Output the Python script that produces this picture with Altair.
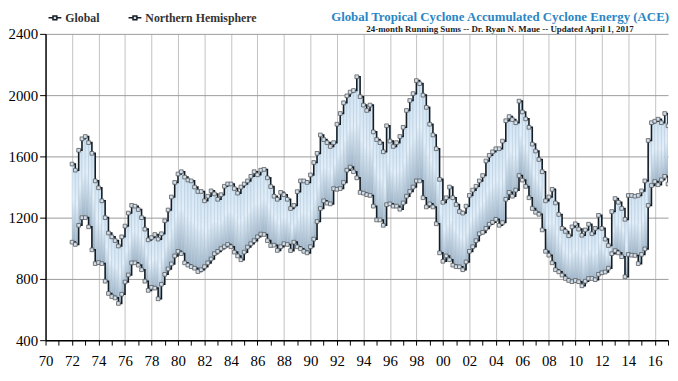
import altair as alt
import pandas as pd

# 24-month running sums of ACE (1972.00 .. 2017.00)
GLOBAL_ACE = [
    1550, 1510, 1640, 1715,   # 1972
    1730, 1690, 1620, 1440,   # 1973
    1395, 1310, 1200, 1100,   # 1974
    1075, 1050, 1015, 1075,   # 1975
    1145, 1230, 1280, 1275,   # 1976
    1253, 1200, 1125, 1055,   # 1977
    1070, 1090, 1060, 1095,   # 1978
    1180, 1250, 1335, 1430,   # 1979
    1485, 1500, 1465, 1446,   # 1980
    1440, 1400, 1371, 1371,   # 1981
    1310, 1340, 1375, 1355,   # 1982
    1320, 1350, 1405, 1420,   # 1983
    1420, 1390, 1360, 1400,   # 1984
    1420, 1440, 1470, 1500,   # 1985
    1480, 1510, 1515, 1460,   # 1986
    1403, 1340, 1320, 1365,   # 1987
    1350, 1320, 1260, 1280,   # 1988
    1370, 1440, 1440, 1430,   # 1989
    1479, 1560, 1620, 1740,   # 1990
    1710, 1690, 1665, 1690,   # 1991
    1810, 1880, 1950, 1995,   # 1992
    2020, 2030, 2120, 1990,   # 1993
    1935, 1900, 1935, 1760,   # 1994
    1710, 1690, 1630, 1800,   # 1995
    1700, 1665, 1690, 1730,   # 1996
    1790, 1900, 1965, 2010,   # 1997
    2095, 2075, 2000, 1920,   # 1998
    1810, 1740, 1650, 1450,   # 1999
    1300, 1330, 1400, 1330,   # 2000
    1286, 1240, 1230, 1275,   # 2001
    1345, 1380, 1405, 1440,   # 2002
    1475, 1570, 1607, 1630,   # 2003
    1650, 1650, 1700, 1833,   # 2004
    1860, 1840, 1820, 1961,   # 2005
    1890, 1845, 1790, 1680,   # 2006
    1635, 1580, 1500, 1310,   # 2007
    1335, 1385, 1296, 1221,   # 2008
    1130, 1110, 1082, 1140,   # 2009
    1160, 1125, 1085, 1120,   # 2010
    1157, 1095, 1130, 1215,   # 2011
    1130, 1060, 1018, 1240,   # 2012
    1325, 1300, 1260, 1189,   # 2013
    1345, 1345, 1340, 1345,   # 2014
    1375, 1440, 1704, 1820,   # 2015
    1830, 1843, 1820, 1880,   # 2016
    1800,                     # 2017
]

NH_ACE = [
    1040, 1025, 1150, 1200,   # 1972
    1200, 1140, 990, 900,     # 1973
    907, 900, 785, 705,       # 1974
    685, 676, 640, 700,       # 1975
    780, 826, 905, 905,       # 1976
    890, 860, 785, 725,       # 1977
    745, 740, 670, 765,       # 1978
    830, 865, 898, 950,       # 1979
    980, 965, 905, 890,       # 1980
    880, 870, 848, 860,       # 1981
    880, 905, 930, 965,       # 1982
    980, 998, 1010, 1025,     # 1983
    1010, 975, 950, 925,      # 1984
    975, 1008, 1030, 1050,    # 1985
    1075, 1093, 1090, 1050,   # 1986
    1018, 1020, 986, 1010,    # 1987
    1030, 1025, 985, 1040,    # 1988
    1010, 997, 980, 970,      # 1989
    1010, 1060, 1175, 1260,   # 1990
    1310, 1295, 1290, 1390,   # 1991
    1385, 1390, 1430, 1510,   # 1992
    1530, 1500, 1460, 1365,   # 1993
    1360, 1350, 1345, 1275,   # 1994
    1185, 1185, 1150, 1285,   # 1995
    1290, 1275, 1275, 1255,   # 1996
    1296, 1340, 1371, 1400,   # 1997
    1440, 1440, 1330, 1270,   # 1998
    1290, 1270, 1160, 970,    # 1999
    915, 950, 925, 890,       # 2000
    880, 879, 860, 911,       # 2001
    980, 1010, 1050, 1095,    # 2002
    1104, 1130, 1157, 1170,   # 2003
    1189, 1150, 1168, 1320,   # 2004
    1365, 1340, 1380, 1475,   # 2005
    1445, 1404, 1330, 1260,   # 2006
    1235, 1222, 1120, 980,    # 2007
    955, 905, 860, 846,       # 2008
    825, 803, 790, 782,       # 2009
    790, 782, 755, 785,       # 2010
    803, 803, 795, 830,       # 2011
    840, 845, 870, 965,       # 2012
    985, 970, 945, 814,       # 2013
    960, 955, 953, 900,       # 2014
    960, 996, 1280, 1410,     # 2015
    1436, 1415, 1447, 1470,   # 2016
    1420,                     # 2017
]

YEARS = [1972 + 0.25 * i for i in range(len(GLOBAL_ACE))]
SERIES = ["Global", "Northern Hemisphere"]
Y_TICKS = [400, 800, 1200, 1600, 2000, 2400]
X_TICKS = list(range(1970, 2018))

TITLE = "Global Tropical Cyclone Accumulated Cyclone Energy (ACE)"
SUBTITLE = "24-month Running Sums -- Dr. Ryan N. Maue -- Updated April 1, 2017"

wide = pd.DataFrame({"year": YEARS, "glob": GLOBAL_ACE, "nh": NH_ACE})
long = pd.concat([
    pd.DataFrame({"year": YEARS, "value": GLOBAL_ACE, "series": SERIES[0]}),
    pd.DataFrame({"year": YEARS, "value": NH_ACE, "series": SERIES[1]}),
])

SERIF = "Liberation Serif"
LINE_COLOR = "#141c24"
MARK_FILL = "#cfdeec"

x_scale = alt.Scale(domain=[1970, 2017], nice=False, zero=False)
y_scale = alt.Scale(domain=[400, 2400], nice=False, zero=False)

x_axis = alt.Axis(
    values=X_TICKS, title=None, grid=True,
    gridColor="#c2c2c2", gridWidth=1,
    gridOpacity={"condition": {"test": "datum.value % 2 === 0 && datum.value > 1970", "value": 1}, "value": 0},
    labelExpr="datum.value % 2 === 0 ? substring(format(datum.value, 'd'), 2, 4) : ''",
    labelOverlap=False, labelFlush=False,
    labelFont=SERIF, labelFontSize=15, labelColor="#000", labelPadding=9,
    domainColor="#000", domainWidth=1.5, tickColor="#000", tickSize=5, tickWidth=1,
)
y_axis = alt.Axis(
    values=Y_TICKS, title=None, grid=True, gridColor="#9a9a9a", gridWidth=1, format="d",
    labelFont=SERIF, labelFontSize=15, labelColor="#000", labelPadding=2,
    domainColor="#000", domainWidth=1.5, tickColor="#000", tickSize=6, tickWidth=1,
)

gradient = {
    "gradient": "linear", "x1": 0, "y1": 0, "x2": 0, "y2": 1,
    "stops": [
        {"offset": 0, "color": "#d0e3f3"},
        {"offset": 0.45, "color": "#e3eff9"},
        {"offset": 1, "color": "#9db3c6"},
    ],
}

cols = alt.Chart(wide).transform_calculate(
    year_end="datum.year + 0.25"
).mark_bar(
    clip=True, fill=gradient, stroke="#a8bfd3", strokeWidth=0.4
).encode(
    x=alt.X("year:Q", scale=x_scale, axis=x_axis),
    x2="year_end:Q",
    y=alt.Y("glob:Q", scale=y_scale, axis=y_axis),
    y2="nh:Q",
)

PATH = "M-1,0H-0.3M0.3,0H1M-0.3,-0.3H0.3V0.3H-0.3Z"

lines = alt.Chart(long).mark_line(
    interpolate="step-after", strokeWidth=1.6, clip=True
).encode(
    x=alt.X("year:Q", scale=x_scale, axis=x_axis),
    y=alt.Y("value:Q", scale=y_scale, axis=y_axis),
    color=alt.Color(
        "series:N",
        scale=alt.Scale(domain=SERIES, range=[LINE_COLOR, LINE_COLOR]),
        legend=alt.Legend(
            title=None, orient="none", legendX=2, legendY=-24,
            direction="horizontal", symbolType=PATH, symbolSize=169,
            symbolStrokeWidth=1.5, symbolFillColor=MARK_FILL,
            labelFont=SERIF, labelFontSize=12, labelFontWeight="bold",
            labelColor="#333", columnPadding=26, labelOffset=3, padding=0,
        ),
    ),
)

points = alt.Chart(long).mark_square(
    size=14, fill=MARK_FILL, stroke="#5a5a5a", strokeWidth=0.8, opacity=1, clip=True
).encode(
    x=alt.X("year:Q", scale=x_scale, axis=x_axis),
    y=alt.Y("value:Q", scale=y_scale, axis=y_axis),
)

chart = alt.layer(cols, lines, points).properties(
    width=630, height=310,
    padding={"left": 0, "top": 0, "right": 0, "bottom": 0},
    title=alt.TitleParams(
        text=TITLE, subtitle=SUBTITLE, font=SERIF, fontSize=13, fontWeight="bold",
        color="#2a86c5", subtitleFont=SERIF, subtitleFontSize=9, subtitleColor="#222",
        subtitleFontWeight="bold", anchor="middle", frame="group", dx=145,
        offset=-24, subtitlePadding=1,
    ),
).configure_view(stroke=None)

chart.save("out.html", embed_options={"renderer": "svg", "actions": False})
